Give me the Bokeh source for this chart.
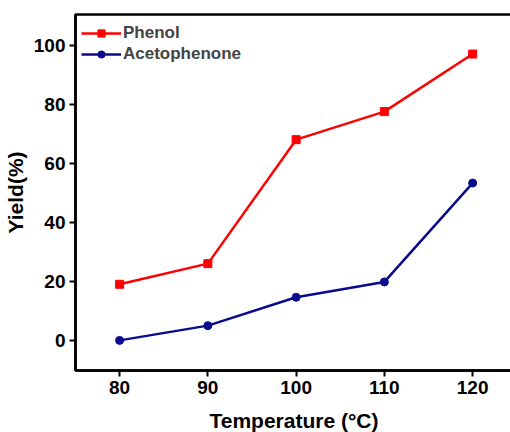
from bokeh.plotting import figure
from bokeh.models import LinearAxis, FixedTicker, Legend, LegendItem, Range1d
from bokeh.embed import file_html
from bokeh.resources import INLINE

temperature = [80, 90, 100, 110, 120]
phenol = [19.0, 26.0, 68.0, 77.5, 97.0]
acetophenone = [0.0, 5.0, 14.6, 19.8, 53.3]
x_ticks = [80, 90, 100, 110, 120]
y_ticks = [0, 20, 40, 60, 80, 100]

FONT = "Liberation Sans"

p = figure(frame_width=437, frame_height=356, output_backend="svg",
           toolbar_location=None, x_range=Range1d(75.0, 124.52), y_range=Range1d(-10.2, 110.4),
           min_border_left=68, min_border_right=0, min_border_top=14, min_border_bottom=53,
           x_axis_type=None, y_axis_type=None)
p.outline_line_color = "black"
p.outline_line_width = 2.5
p.grid.visible = False
p.background_fill_color = "white"
p.border_fill_color = "white"

def style(ax, ticks):
    ax.ticker = FixedTicker(ticks=ticks)
    ax.minor_tick_line_color = None
    ax.axis_line_width = 2.5
    ax.major_tick_line_width = 2
    ax.major_tick_in = 0
    ax.major_tick_out = 6
    ax.major_label_text_font = FONT
    ax.major_label_text_font_style = "bold"
    ax.major_label_text_font_size = "19px"
    ax.major_label_text_color = "black"
    ax.axis_label_text_font = FONT
    ax.axis_label_text_font_style = "bold"
    ax.axis_label_text_font_size = "21px"
    ax.axis_label_text_color = "black"

xa = LinearAxis(axis_label="Temperature (°C)")
style(xa, x_ticks)
xa.major_label_standoff = 4
xa.axis_label_standoff = 12
p.add_layout(xa, "below")

ya = LinearAxis(axis_label="Yield(%)")
style(ya, y_ticks)
ya.major_label_standoff = 4
ya.axis_label_standoff = 4
p.add_layout(ya, "left")

red = "#FF0000"
navy = "#0A0A8C"
l1 = p.line(temperature, phenol, line_color=red, line_width=2.5)
m1 = p.scatter(temperature, phenol, marker="square", size=8, color=red)
l2 = p.line(temperature, acetophenone, line_color=navy, line_width=2.5)
m2 = p.scatter(temperature, acetophenone, marker="circle", size=8, color=navy)

legend = Legend(items=[LegendItem(label="Phenol", renderers=[l1, m1]),
                       LegendItem(label="Acetophenone", renderers=[l2, m2])],
                location="top_left")
legend.background_fill_alpha = 0
legend.border_line_color = None
legend.glyph_width = 40
legend.glyph_height = 18
legend.label_height = 18
legend.label_text_font = FONT
legend.label_text_font_style = "bold"
legend.label_text_font_size = "17px"
legend.label_standoff = 2
legend.spacing = 1
legend.padding = 6
legend.margin = 6
legend.title = " "
legend.title_text_font_size = "2px"
legend.title_standoff = 1
p.add_layout(legend)

open("out.html", "w").write(file_html(p, INLINE))
